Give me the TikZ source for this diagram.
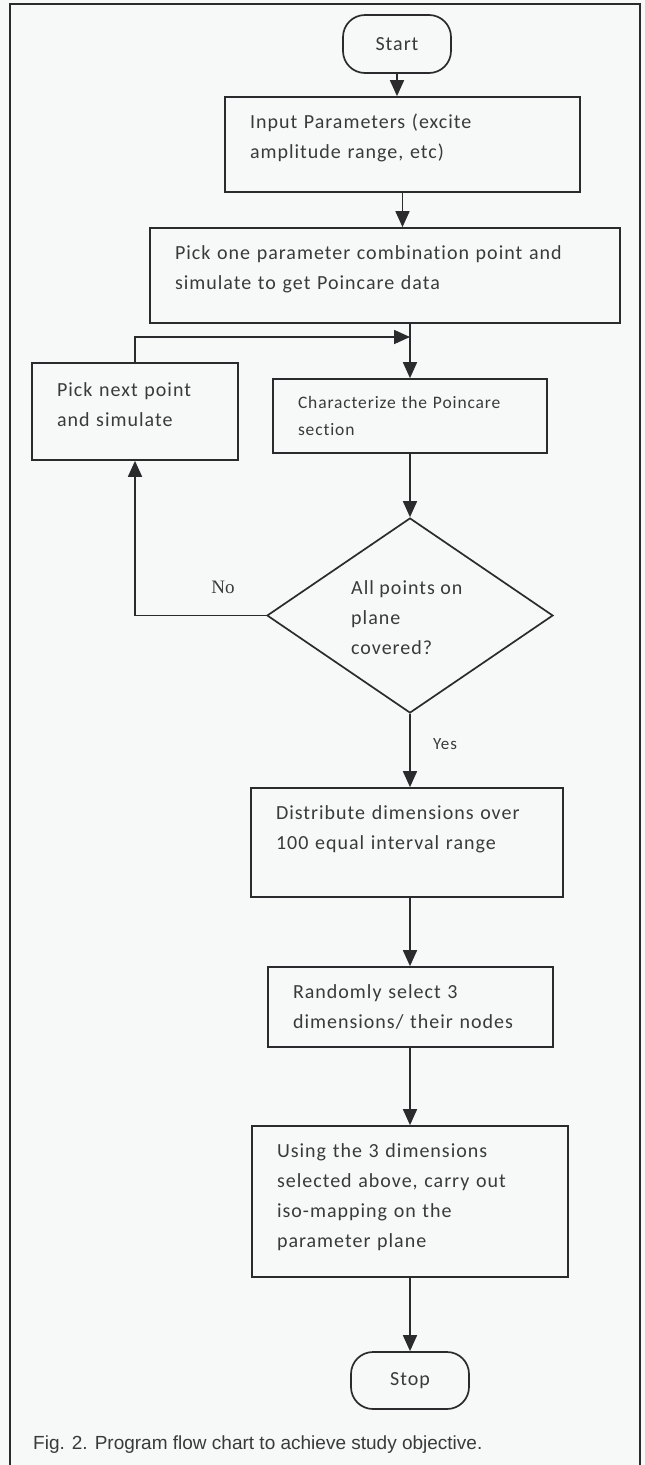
\documentclass[tikz,border=0pt]{standalone}
\usepackage{fontspec}
\setmainfont{Carlito}[LetterSpace=5, Ligatures=CommonOff]
\newfontfamily\capfont{Liberation Sans}
\newfontfamily\nofont{Liberation Serif}
\usetikzlibrary{arrows.meta,shapes.geometric}
\definecolor{ink}{HTML}{2B2B2D}
\definecolor{txt}{HTML}{3A3A3A}
\definecolor{paper}{HTML}{F7F8F8}
\begin{document}
\begin{tikzpicture}[x=1pt,y=-1pt,
  every node/.style={text=txt},
  line/.style={draw=ink, line width=1.7pt},
  arr/.style={line, -{Triangle[width=14pt,length=16pt]}},
  box/.style={draw=ink, line width=1.7pt, rectangle, align=left, inner xsep=25pt, inner ysep=0pt, font=\fontsize{20}{30}\selectfont},
  term/.style={draw=ink, line width=1.7pt, rectangle, rounded corners=22pt, inner sep=0pt, font=\fontsize{20}{24}\selectfont},
  lbl/.style={font=\fontsize{20}{30}\selectfont, align=left, inner sep=0pt}
]
\fill[paper] (0,0) rectangle (645,1465);
\useasboundingbox (0,0) rectangle (645,1465);
\draw[ink, line width=1.2pt] (10,1465) -- (10,4) -- (640,4) -- (640,1465);

% nodes
\node[term, minimum width=108pt, minimum height=58pt] (start) at (397,44) {Start};
\node[box, text width=305pt, minimum height=95pt] (input) at (402.5,144.5)
  {Input Parameters (excite\\amplitude range, etc)\par\vspace*{13pt}};
\node[box, text width=420pt, minimum height=95pt] (pick) at (385,275.5)
  {Pick one parameter combination point and\\simulate to get Poincare data\par\vspace*{13pt}};
\node[box, text width=156pt, minimum height=97pt] (next) at (135,411.5)
  {Pick next point\\and simulate\par\vspace*{13pt}};
\node[box, text width=224pt, minimum height=74pt, font=\fontsize{17.5}{27}\selectfont] (char) at (410,416)
  {Characterize the Poincare\\section};
\node[draw=ink, line width=1.7pt, diamond, minimum width=286pt, minimum height=195pt, inner sep=0pt] (dia) at (410,615.5) {};
\node[lbl, anchor=west] (dtext) at (351,618) {All points on\\plane\\covered?};
\node[box, text width=262pt, minimum height=109pt] (dist) at (407,842.5)
  {Distribute dimensions over\\100 equal interval range\par\vspace*{27pt}};
\node[box, text width=235pt, minimum height=80pt] (rand) at (410.5,1007)
  {Randomly select 3\\dimensions/ their nodes};
\node[box, text width=266pt, minimum height=151pt] (using) at (410,1201.5)
  {Using the 3 dimensions\\selected above, carry out\\iso-mapping on the\\parameter plane\par\vspace*{9pt}};
\node[term, minimum width=118pt, minimum height=57pt] (stop) at (410,1380.5) {Stop};

\node[font=\nofont\fontsize{19}{22}\selectfont, inner sep=0pt] (no) at (223,587) {No};
\node[font=\fontsize{17}{20}\selectfont, inner sep=0pt] (yes) at (445,744) {Yes};
\node[anchor=base west, inner sep=0pt, font=\capfont\fontsize{19}{22}\selectfont] (cap) at (33,1449)
  {Fig. 2. Program flow chart to achieve study objective.};

% connectors
\coordinate (J) at (410,337);
\draw[arr] (start.south) -- (start.south |- input.north);
\draw[arr] (input.south) -- (input.south |- pick.north);
\draw[arr] (char.north |- pick.south) -- (char.north);
\draw[arr] (next.north) |- (J);
\draw[arr] (char.south) -- (dia.north);
\draw[arr] (dia.west) -| (next.south);
\draw[arr] (dia.south) -- (dia.south |- dist.north);
\draw[arr] (dia.south |- dist.south) -- (dia.south |- rand.north);
\draw[arr] (dia.south |- rand.south) -- (dia.south |- using.north);
\draw[arr] (dia.south |- using.south) -- (stop.north);
\end{tikzpicture}
\end{document}
